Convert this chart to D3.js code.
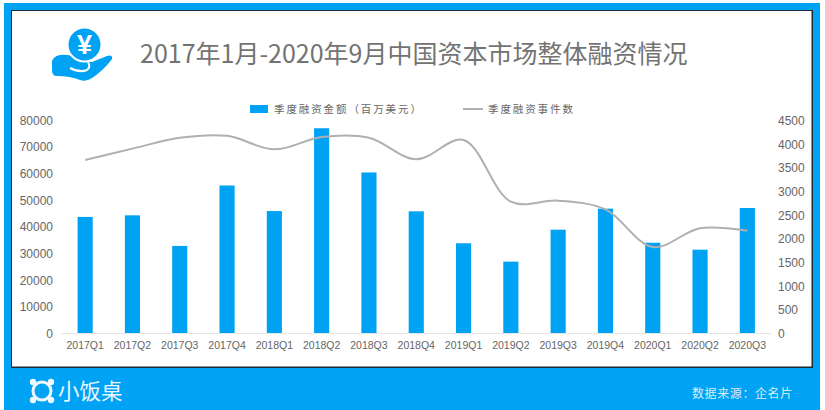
<!DOCTYPE html>
<html>
<head>
<meta charset="utf-8">
<script src="https://cdn.jsdelivr.net/npm/d3@7"></script>
<style>
  html, body { margin: 0; padding: 0; background: #fff; }
  text { font-family: "Noto Sans CJK SC", "Liberation Sans", sans-serif; }
</style>
</head>
<body>
<div id="chart"></div>
<script>
const quarters = ["2017Q1","2017Q2","2017Q3","2017Q4","2018Q1","2018Q2","2018Q3","2018Q4",
                  "2019Q1","2019Q2","2019Q3","2019Q4","2020Q1","2020Q2","2020Q3"];
const amounts = [43600,44200,32700,55400,45800,76900,60300,45700,33700,26800,38800,46700,33900,31300,46950];
const deals = [3655,3895,4125,4165,3880,4140,4125,3670,4077,2775,2795,2610,1815,2215,2160];
const leftTicks = [0,10000,20000,30000,40000,50000,60000,70000,80000];
const rightTicks = [0,500,1000,1500,2000,2500,3000,3500,4000,4500];

const width = 825, height = 410;
const blue = "#00a2f4", grey = "#b0b0b0", textGrey = "#666";

const svg = d3.select("#chart").append("svg")
  .attr("width", width).attr("height", height)
  .style("display", "block");

// frame
svg.append("rect").attr("x", 4).attr("y", 3).attr("width", 816).attr("height", 407).attr("fill", blue);
svg.append("rect").attr("x", 11).attr("y", 10).attr("width", 802).attr("height", 358).attr("fill", "#1c2a33");
svg.append("rect").attr("x", 12).attr("y", 11).attr("width", 799.5).attr("height", 355.5).attr("fill", "#fff");

const x = d3.scaleBand().domain(quarters).range([61.5, 771]).paddingInner(0.68).paddingOuter(0.34);
const yL = d3.scaleLinear().domain([0, 80000]).range([333, 120]);
const yR = d3.scaleLinear().domain([0, 4500]).range([333, 120]);

// bars
svg.append("g").selectAll("rect")
  .data(amounts)
  .join("rect")
  .attr("x", (d, i) => x(quarters[i]))
  .attr("y", d => yL(d))
  .attr("width", x.bandwidth())
  .attr("height", d => 333 - yL(d))
  .attr("fill", blue);

// baseline
svg.append("line").attr("x1", 61.5).attr("x2", 771).attr("y1", 333.5).attr("y2", 333.5)
  .attr("stroke", "#e6e6e6").attr("stroke-width", 1);

// line
const line = d3.line()
  .x((d, i) => x(quarters[i]) + x.bandwidth() / 2)
  .y(d => yR(d))
  .curve(d3.curveCatmullRom.alpha(0.5));
svg.append("path").attr("d", line(deals))
  .attr("fill", "none").attr("stroke", grey).attr("stroke-width", 2);

// axes
const axisL = d3.axisLeft(yL).tickValues(leftTicks).tickSize(0).tickPadding(0).tickFormat(d3.format("d"));
const axisR = d3.axisRight(yR).tickValues(rightTicks).tickSize(0).tickPadding(0).tickFormat(d3.format("d"));
const axisB = d3.axisBottom(x).tickSize(0).tickPadding(0);

const gL = svg.append("g").attr("transform", "translate(53,0.5)").call(axisL);
const gR = svg.append("g").attr("transform", "translate(778,0.5)").call(axisR);
const gB = svg.append("g").attr("transform", "translate(0,342)").call(axisB);
[gL, gR, gB].forEach(g => {
  g.select(".domain").remove();
  g.selectAll("text").attr("fill", textGrey)
    .style("font-family", "'Liberation Sans', sans-serif");
});
gL.selectAll("text").style("font-size", "12px");
gR.selectAll("text").style("font-size", "12px");
gB.selectAll("text").style("font-size", "10.5px");

// title
svg.append("text").attr("x", 140).attr("y", 63)
  .attr("font-size", 25).attr("fill", "#737373")
  .text("2017年1月-2020年9月中国资本市场整体融资情况");

// legend
svg.append("rect").attr("x", 250).attr("y", 105).attr("width", 18).attr("height", 8).attr("fill", blue);
svg.append("text").attr("x", 274).attr("y", 113)
  .attr("font-size", 10.5).attr("letter-spacing", 1.9).attr("fill", textGrey)
  .text("季度融资金额（百万美元）");
svg.append("line").attr("x1", 463).attr("x2", 483).attr("y1", 109).attr("y2", 109)
  .attr("stroke", grey).attr("stroke-width", 2);
svg.append("text").attr("x", 488).attr("y", 113)
  .attr("font-size", 10.5).attr("letter-spacing", 1.9).attr("fill", textGrey)
  .text("季度融资事件数");

// coin-in-hand icon
const icon = svg.append("g");
icon.append("path")
  .attr("d", "M52 61 Q54 56 60 55 Q68 54 74 57 L82 60 L92 62 L107 56 Q113 54 112 59 Q104 70 92 78 Q86 82 80 80 Q70 76 57 76 Q52 76 52 70 Z")
  .attr("fill", blue);
icon.append("path")
  .attr("d", "M70 68 Q80 73 87 70 Q91 67 88 62")
  .attr("fill", "none").attr("stroke", "#fff").attr("stroke-width", 2);
icon.append("circle").attr("cx", 84.5).attr("cy", 44.5).attr("r", 17)
  .attr("fill", blue).attr("stroke", "#fff").attr("stroke-width", 2);
icon.append("text").attr("x", 84.5).attr("y", 54).attr("text-anchor", "middle")
  .attr("font-size", 27).attr("font-weight", 700).attr("fill", "#fff")
  .style("font-family", "'Liberation Sans', sans-serif").text("¥");

// footer
const logo = svg.append("g").attr("transform", "translate(42,391)");
logo.append("circle").attr("r", 9)
  .attr("fill", "none").attr("stroke", "#eef9ff").attr("stroke-width", 3);
logo.selectAll("circle.lobe")
  .data([[-9,-9],[9,-9],[-9,9],[9,9]])
  .join("circle")
  .attr("class", "lobe")
  .attr("cx", d => d[0]).attr("cy", d => d[1]).attr("r", 3.2).attr("fill", "#eef9ff");
svg.append("text").attr("x", 58).attr("y", 399)
  .attr("font-size", 21.5).attr("fill", "#e8f6ff").text("小饭桌");
svg.append("text").attr("x", 692).attr("y", 398)
  .attr("font-size", 12).attr("letter-spacing", 0.6).attr("fill", "#d5eefc").text("数据来源：企名片");
</script>
</body>
</html>
